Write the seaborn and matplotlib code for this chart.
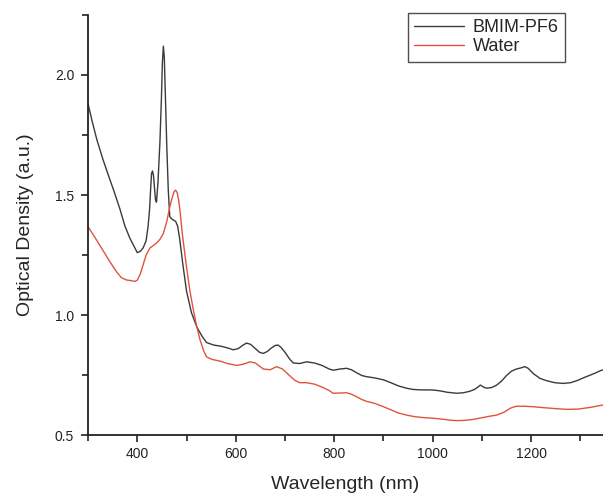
import matplotlib
matplotlib.use("Agg")
import matplotlib.pyplot as plt
from matplotlib.ticker import MultipleLocator, FormatStrFormatter
import seaborn as sns
import pandas as pd

# BMIM-PF6 spectrum
wl_bmim = [300, 308, 318, 330, 340, 352, 365, 375, 385, 395, 400, 406, 412, 418,
           422, 425, 427, 429, 431, 433, 435, 437, 439, 442, 446, 449, 451, 453,
           455, 457, 460, 463, 466, 470, 474, 478, 482, 486, 492, 500, 510, 521,
           532, 541, 555, 570, 585, 595, 605, 615, 622, 630, 640, 648, 656, 664,
           672, 680, 686, 692, 700, 710, 717, 730, 744, 760, 775, 790, 798, 812,
           825, 835, 845, 856, 866, 882, 900, 915, 930, 947, 960, 975, 990, 1001,
           1015, 1030, 1049, 1062, 1075, 1085, 1092, 1097, 1103, 1110, 1120, 1130,
           1140, 1150, 1160, 1170, 1180, 1187, 1194, 1205, 1218, 1232, 1248, 1265,
           1280, 1295, 1306, 1318, 1330, 1343, 1350]
od_bmim = [1.88, 1.81, 1.73, 1.65, 1.59, 1.52, 1.44, 1.37, 1.32, 1.28, 1.26, 1.265,
           1.28, 1.31, 1.37, 1.44, 1.52, 1.59, 1.60, 1.58, 1.53, 1.48, 1.47, 1.55,
           1.72, 1.90, 2.05, 2.12, 2.07, 1.92, 1.70, 1.52, 1.41, 1.40, 1.395, 1.39,
           1.37, 1.32, 1.22, 1.10, 1.01, 0.95, 0.91, 0.885, 0.875, 0.87, 0.862,
           0.855, 0.86, 0.875, 0.883, 0.878, 0.86, 0.845, 0.84, 0.848, 0.862, 0.873,
           0.875, 0.865, 0.845, 0.815, 0.80, 0.798, 0.805, 0.80, 0.79, 0.775, 0.77,
           0.775, 0.778, 0.772, 0.76, 0.748, 0.743, 0.738, 0.73, 0.718, 0.705, 0.695,
           0.69, 0.688, 0.688, 0.6875, 0.684, 0.678, 0.674, 0.676, 0.682, 0.69, 0.70,
           0.708, 0.70, 0.695, 0.698, 0.708, 0.725, 0.748, 0.766, 0.775, 0.78, 0.785,
           0.778, 0.755, 0.736, 0.726, 0.718, 0.715, 0.718, 0.728, 0.738, 0.748,
           0.758, 0.77, 0.772]

# Water spectrum
wl_water = [300, 315, 330, 345, 358, 368, 378, 388, 395, 400, 406, 412, 418, 426,
            433, 439, 446, 453, 460, 466, 471, 475, 478, 481, 484, 487, 492, 500,
            507, 514, 520, 527, 535, 541, 552, 568, 585, 602, 615, 629, 640, 656,
            670, 683, 695, 708, 720, 730, 744, 760, 775, 790, 798, 812, 825, 835,
            845, 856, 866, 882, 900, 915, 930, 947, 965, 985, 1001, 1020, 1035,
            1049, 1065, 1082, 1100, 1115, 1130, 1145, 1158, 1170, 1185, 1204, 1225,
            1250, 1272, 1295, 1320, 1343, 1350]
od_water = [1.368, 1.32, 1.27, 1.22, 1.18, 1.155, 1.146, 1.143, 1.14, 1.145, 1.17,
            1.21, 1.25, 1.28, 1.29, 1.30, 1.315, 1.34, 1.39, 1.45, 1.49, 1.515, 1.52,
            1.51, 1.48, 1.43, 1.33, 1.20, 1.10, 1.02, 0.96, 0.90, 0.85, 0.825, 0.815,
            0.808, 0.797, 0.79, 0.795, 0.805, 0.80, 0.775, 0.772, 0.785, 0.775,
            0.75, 0.728, 0.718, 0.718, 0.712, 0.70, 0.685, 0.674, 0.675, 0.676,
            0.67, 0.66, 0.648, 0.64, 0.632, 0.618, 0.605, 0.592, 0.583, 0.576,
            0.572, 0.57, 0.566, 0.562, 0.56, 0.561, 0.565, 0.572, 0.578, 0.583,
            0.595, 0.612, 0.62, 0.62, 0.618, 0.614, 0.61, 0.607, 0.608, 0.615,
            0.624, 0.626]

series_names = ["BMIM-PF6", "Water"]
series_colors = {"BMIM-PF6": "#3a3a3a", "Water": "#e0533f"}

df = pd.concat([
    pd.DataFrame({"wl": wl_bmim, "od": od_bmim, "sample": series_names[0]}),
    pd.DataFrame({"wl": wl_water, "od": od_water, "sample": series_names[1]}),
])

sns.set_style("ticks")
plt.rcParams["font.family"] = ["Liberation Sans", "DejaVu Sans"]

fig = plt.figure(figsize=(6.03, 4.93), dpi=100)
ax = fig.add_axes([0.146, 0.1176, 0.854, 0.852])

sns.lineplot(data=df, x="wl", y="od", hue="sample", hue_order=series_names,
             palette=series_colors, estimator=None, sort=False, linewidth=1.0, ax=ax)

ax.set_xlim(300, 1346)
ax.set_ylim(0.5, 2.25)
ax.xaxis.set_major_locator(MultipleLocator(200))
ax.xaxis.set_minor_locator(MultipleLocator(100))
ax.yaxis.set_major_locator(MultipleLocator(0.5))
ax.yaxis.set_minor_locator(MultipleLocator(0.25))
ax.yaxis.set_major_formatter(FormatStrFormatter("%.1f"))
ax.tick_params(which="both", direction="out", width=1.2, colors="#222222", labelsize=10)
ax.tick_params(which="major", length=5)
ax.tick_params(which="minor", length=4)
ax.tick_params(axis="y", pad=5)
for s in ["top", "right"]:
    ax.spines[s].set_visible(False)
for s in ["left", "bottom"]:
    ax.spines[s].set_linewidth(1.3)
    ax.spines[s].set_color("#222222")

ax.set_xlabel("Wavelength (nm)", fontsize=14, labelpad=11)
ax.set_ylabel("Optical Density (a.u.)", fontsize=14, labelpad=15)

leg = ax.legend(loc="upper right", bbox_to_anchor=(0.926, 1.005), fontsize=13,
                frameon=True, fancybox=False, borderpad=0.35, handlelength=2.8,
                handletextpad=0.45, labelspacing=0.12, borderaxespad=0)
leg.get_frame().set_edgecolor("#222222")
leg.get_frame().set_linewidth(1.0)

fig.savefig("out.png", dpi=100)
